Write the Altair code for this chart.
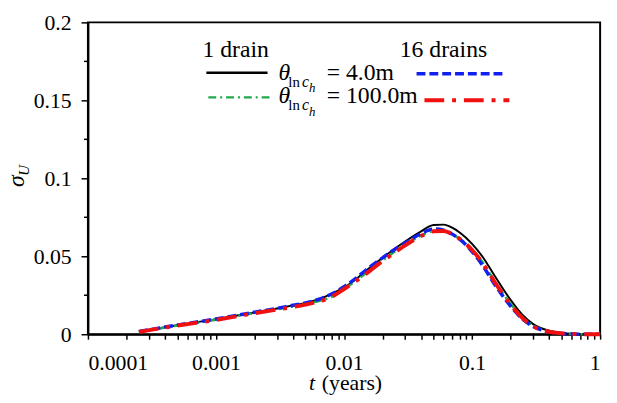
import altair as alt
import pandas as pd

# time values (years)
t = [0.00025, 0.0004, 0.0006, 0.001, 0.0015, 0.002, 0.003, 0.004, 0.005, 0.006,
     0.007, 0.008, 0.009, 0.01, 0.012, 0.015, 0.02, 0.025, 0.03, 0.04, 0.05,
     0.06, 0.07, 0.08, 0.1, 0.12, 0.15, 0.2, 0.25, 0.3, 0.4, 0.5, 0.6, 0.8, 1.0]

# 1 drain, theta = 4.0 m (black solid)
s1_4 = [0.0017, 0.0045, 0.0068, 0.0097, 0.0122, 0.0140, 0.0165, 0.0185, 0.0200, 0.0218,
        0.0238, 0.0260, 0.0280, 0.0300, 0.0345, 0.0410, 0.0490, 0.0550, 0.0595, 0.0660, 0.0700,
        0.0703, 0.0683, 0.0652, 0.0580, 0.0500, 0.0375, 0.0220, 0.0120, 0.0065, 0.0022, 0.0008,
        0.0003, 0.0001, 0.0]
# 1 drain, theta = 100.0 m (green dash-dot)
s1_100 = [0.0015, 0.0043, 0.0065, 0.0093, 0.0118, 0.0136, 0.0160, 0.0178, 0.0193, 0.0208,
          0.0222, 0.0240, 0.0265, 0.0290, 0.0335, 0.0395, 0.0472, 0.0530, 0.0572, 0.0632, 0.0660,
          0.0662, 0.0642, 0.0612, 0.0545, 0.0465, 0.0340, 0.0195, 0.0105, 0.0055, 0.0017, 0.0006,
          0.0002, 0.0, 0.0]
# 16 drains, theta = 4.0 m (blue dashed)
s16_4 = [0.0017, 0.0046, 0.0069, 0.0098, 0.0123, 0.0141, 0.0166, 0.0186, 0.0201, 0.0218,
         0.0236, 0.0258, 0.0280, 0.0305, 0.0350, 0.0415, 0.0490, 0.0545, 0.0585, 0.0645, 0.0675,
         0.0668, 0.0642, 0.0610, 0.0530, 0.0445, 0.0320, 0.0180, 0.0095, 0.0050, 0.0015, 0.0005,
         0.0002, 0.0, 0.0]
# 16 drains, theta = 100.0 m (red long dash-dot)
s16_100 = [0.0015, 0.0043, 0.0065, 0.0092, 0.0117, 0.0135, 0.0158, 0.0175, 0.0190, 0.0205,
           0.0220, 0.0240, 0.0265, 0.0290, 0.0333, 0.0390, 0.0470, 0.0525, 0.0570, 0.0630, 0.0660,
           0.0662, 0.0642, 0.0612, 0.0540, 0.0460, 0.0335, 0.0190, 0.0100, 0.0052, 0.0016, 0.0006,
           0.0002, 0.0, 0.0]

x_major = [0.0001, 0.001, 0.01, 0.1, 1]
x_ticks = [m * d for d in [0.0001, 0.001, 0.01, 0.1] for m in range(1, 10)] + [1]
x_ticks = [float(f"{v:.6g}") for v in x_ticks]
y_major = [0, 0.05, 0.1, 0.15, 0.2]
y_minor = [0.025, 0.075, 0.125, 0.175]

FONT = "Times New Roman, Liberation Serif, serif"

xscale = alt.Scale(type="log", domain=[0.0001, 1])
yscale = alt.Scale(domain=[0, 0.2])

xaxis = alt.Axis(values=x_ticks, format="~g", labelOverlap=False,
                 labelExpr="indexof(" + str(x_major) + ", datum.value) >= 0 ? datum.label : ''",
                 tickSize=5, labelPadding=31, labelBaseline="alphabetic", title=None, grid=False,
                 labelFont=FONT, labelFontSize=22, labelColor="black",
                 domainColor="black", domainWidth=2, tickColor="black", tickWidth=1.5)
yaxis = alt.Axis(values=y_major, format="~g", tickSize=7, labelPadding=10, title=None, grid=False,
                 labelFont=FONT, labelFontSize=22, labelColor="black",
                 domainColor="black", domainWidth=2, tickColor="black", tickWidth=1.5)


def line(vals, color, width, dash=None):
    df = pd.DataFrame({"t": t, "s": vals})
    kw = dict(color=color, strokeWidth=width, interpolate="monotone")
    if dash:
        kw["strokeDash"] = dash
    return alt.Chart(df).mark_line(**kw).encode(
        x=alt.X("t:Q", scale=xscale, axis=xaxis),
        y=alt.Y("s:Q", scale=yscale, axis=yaxis),
    )


black = line(s1_4, "black", 2)
green = line(s1_100, "#22a84a", 2.5, [8, 4, 2, 4])
blue = line(s16_4, "#1020f0", 3.5, [9, 4])
red = line(s16_100, "#f01010", 4, [20, 8, 4, 8])

minor = alt.Chart(pd.DataFrame({"v": y_minor})).mark_rule(color="black", strokeWidth=1.5).encode(
    y=alt.Y("v:Q", scale=yscale, axis=yaxis), x=alt.value(-4), x2=alt.value(0))


def txt(s, x, y, size=24, style="normal", align="left", angle=0):
    kw = dict(text=s, font=FONT, fontSize=size, fontStyle=style, align=align,
              baseline="alphabetic", color="black")
    if angle:
        kw["angle"] = angle
    return alt.Chart(pd.DataFrame({"a": [0]})).mark_text(**kw).encode(
        x=alt.value(x), y=alt.value(y))


def seg(x1, x2, y, color, width, dash=None):
    kw = dict(color=color, strokeWidth=width)
    if dash:
        kw["strokeDash"] = dash
    return alt.Chart(pd.DataFrame({"a": [0]})).mark_rule(**kw).encode(
        x=alt.value(x1), x2=alt.value(x2), y=alt.value(y))


legend = [
    txt("1 drain", 116, 35),
    txt("16 drains", 316, 35),
    seg(120, 182, 51, "black", 2.5),
    seg(333, 420, 52, "#1020f0", 3.5, [9, 4]),
    seg(122, 185, 76, "#22a84a", 2.5, [8, 4, 2, 4]),
    seg(341, 427, 79, "#f01010", 4, [20, 8, 4, 8]),
]
for yb in (58, 82):
    legend += [
        txt("θ", 193, yb, style="italic"),
        txt("ln", 203, yb + 7, size=15),
        txt("c", 217, yb + 7, size=16, style="italic"),
        txt("h", 224, yb + 13, size=13, style="italic"),
    ]
legend += [txt("= 4.0m", 242, 58), txt("= 100.0m", 242, 82)]

titles = [
    txt("t", 224, 373, size=22, style="italic"),
    txt("(years)", 237, 373, size=22),
    txt("σ", -65, 161, size=24, style="italic", align="center", angle=270),
    txt("U", -60, 150, size=15, style="italic", align="center", angle=270),
]

chart = alt.layer(black, green, blue, red, minor, *legend, *titles).properties(
    width=519, height=316,
    padding={"left": 81, "top": 12, "right": 9, "bottom": 59},
    autosize=alt.AutoSizeParams(type="none"),
    background="white",
).configure_view(stroke="black", strokeWidth=2)

chart.save("out.html", embed_options={"renderer": "svg", "actions": False})
